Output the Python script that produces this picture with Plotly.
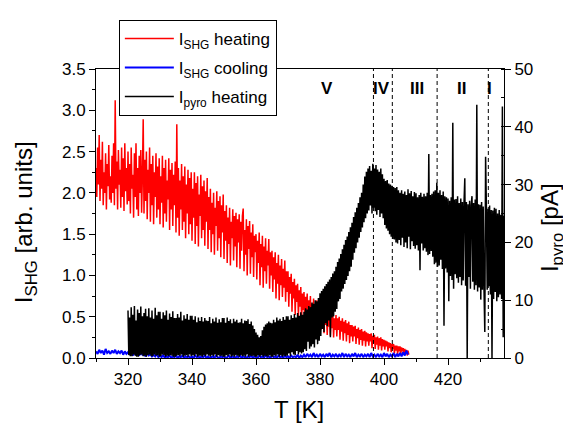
import numpy as np
import plotly.graph_objects as go

# ---------------- data ----------------
T_START_SHG = 310.0      # K, first SHG sample
T_START_PYRO = 320.0     # K, first pyro sample
STEP_HEAT = 0.25         # K between heating samples
STEP_COOL = 0.5          # K between cooling samples

shg_heating = [
    2.30, 1.95, 2.55, 2.10, 2.70, 1.90, 2.40, 2.05, 2.62, 1.85, 2.25, 2.00, 2.48, 1.80, 2.35, 2.08, 2.58, 1.92, 2.20, 1.88,
    2.45, 2.00, 2.60, 1.85, 3.12, 2.05, 2.38, 1.80, 2.52, 2.10, 2.28, 1.82, 2.55, 1.95, 2.42, 1.78, 2.60, 2.02, 2.30, 1.86,
    2.50, 1.90, 2.35, 1.75, 2.55, 2.05, 2.22, 1.70, 2.48, 1.95, 2.60, 1.80, 2.30, 1.72, 2.45, 2.00, 2.52, 1.76, 2.20, 2.89,
    1.75, 2.40, 1.90, 2.50, 1.68, 2.28, 2.00, 2.55, 1.65, 2.35, 1.85, 2.45, 1.62, 2.25, 1.95, 2.48, 1.70, 2.32, 1.80, 2.42,
    1.62, 2.20, 1.88, 2.45, 1.58, 2.30, 1.75, 2.40, 1.65, 2.15, 1.92, 2.42, 1.55, 2.28, 1.80, 2.36, 1.60, 2.22, 1.85, 2.38,
    1.52, 2.83, 1.70, 2.30, 1.48, 2.15, 1.80, 2.35, 1.55, 2.20, 1.65, 2.32, 1.45, 2.10, 1.75, 2.28, 1.50, 2.18, 1.62, 2.25,
    1.42, 2.05, 1.70, 2.25, 1.38, 2.12, 1.60, 2.20, 1.35, 1.98, 1.72, 2.22, 1.45, 2.08, 1.55, 2.15, 1.36, 2.02, 1.65, 2.18,
    1.32, 1.95, 1.55, 2.05, 1.28, 1.88, 1.50, 2.00, 1.25, 1.82, 1.60, 2.02, 1.30, 1.90, 1.45, 1.96, 1.22, 1.85, 1.52, 1.98,
    1.20, 1.78, 1.42, 1.85, 1.15, 1.70, 1.38, 1.82, 1.12, 1.65, 1.45, 1.80, 1.18, 1.72, 1.35, 1.76, 1.10, 1.68, 1.40, 1.74,
    1.08, 1.65, 1.30, 1.72, 1.81, 1.05, 1.55, 1.25, 1.68, 1.00, 1.60, 1.32, 1.66, 1.02, 1.52, 1.22, 1.62, 0.98, 1.48, 1.28,
    1.50, 0.95, 1.42, 1.15, 1.52, 0.88, 1.38, 1.10, 1.48, 0.85, 1.35, 1.05, 1.45, 0.90, 1.30, 1.12, 1.44, 0.84, 1.28, 1.00,
    1.30, 0.80, 1.22, 0.95, 1.28, 0.72, 1.15, 0.90, 1.25, 0.70, 1.12, 0.88, 1.20, 0.74, 1.08, 0.85, 1.18, 0.68, 1.05, 0.80,
    1.05, 0.62, 0.98, 0.78, 1.02, 0.56, 0.92, 0.72, 0.96, 0.52, 0.88, 0.68, 0.90, 0.50, 0.82, 0.62, 0.86, 0.46, 0.78, 0.58,
    0.80, 0.45, 0.74, 0.58, 0.78, 0.40, 0.70, 0.54, 0.75, 0.38, 0.66, 0.50, 0.72, 0.36, 0.64, 0.48, 0.70, 0.35, 0.62, 0.45,
    0.62, 0.34, 0.58, 0.44, 0.60, 0.30, 0.55, 0.40, 0.58, 0.28, 0.52, 0.38, 0.56, 0.27, 0.50, 0.36, 0.54, 0.25, 0.48, 0.34,
    0.52, 0.26, 0.48, 0.34, 0.50, 0.22, 0.45, 0.32, 0.48, 0.21, 0.44, 0.30, 0.46, 0.20, 0.42, 0.28, 0.44, 0.18, 0.40, 0.26,
    0.40, 0.20, 0.38, 0.26, 0.39, 0.17, 0.35, 0.24, 0.37, 0.16, 0.34, 0.22, 0.35, 0.15, 0.32, 0.21, 0.33, 0.14, 0.31, 0.20,
    0.30, 0.15, 0.29, 0.20, 0.30, 0.12, 0.27, 0.18, 0.28, 0.11, 0.25, 0.16, 0.26, 0.10, 0.24, 0.15, 0.25, 0.09, 0.23, 0.14,
    0.22, 0.10, 0.21, 0.14, 0.20, 0.08, 0.19, 0.12, 0.18, 0.07, 0.17, 0.11, 0.17, 0.06, 0.15, 0.09, 0.15, 0.05, 0.14, 0.08,
    0.14, 0.05, 0.13, 0.08, 0.12, 0.04, 0.11, 0.06, 0.10, 0.03, 0.09, 0.04,
]

shg_cooling = [
    0.08, 0.05, 0.10, 0.06, 0.09, 0.04, 0.11, 0.06, 0.08, 0.05,
    0.09, 0.06, 0.10, 0.05, 0.08, 0.06, 0.09, 0.04, 0.08, 0.05,
    0.07, 0.04, 0.08, 0.03, 0.07, 0.04, 0.06, 0.03, 0.07, 0.04,
    0.05, 0.02, 0.06, 0.03, 0.05, 0.02, 0.04, 0.02, 0.05, 0.01,
    0.03, 0.01, 0.04, 0.00, 0.02, 0.01, 0.03, 0.00, 0.02, 0.01,
    0.03, 0.00, 0.02, 0.01, 0.03, 0.00, 0.02, 0.01, 0.02, 0.00,
    0.02, 0.00, 0.03, 0.01, 0.02, 0.00, 0.02, 0.01, 0.03, 0.00,
    0.02, 0.00, 0.01, 0.02, 0.00, 0.03, 0.01, 0.00, 0.02, 0.01,
    0.02, 0.00, 0.01, 0.03, 0.00, 0.02, 0.01, 0.00, 0.02, 0.01,
    0.03, 0.00, 0.02, 0.01, 0.00, 0.02, 0.01, 0.03, 0.00, 0.02,
    0.01, 0.00, 0.03, 0.01, 0.02, 0.00, 0.04, 0.01, 0.02, 0.00,
    0.03, 0.01, 0.02, 0.00, 0.03, 0.01, 0.02, 0.00, 0.03, 0.01,
    0.02, 0.00, 0.03, 0.01, 0.02, 0.01, 0.04, 0.00, 0.03, 0.01,
    0.04, 0.01, 0.05, 0.02, 0.04, 0.01, 0.06, 0.02, 0.04, 0.01,
    0.05, 0.02, 0.04, 0.01, 0.05, 0.02, 0.06, 0.01, 0.04, 0.02,
    0.05, 0.01, 0.04, 0.02, 0.06, 0.01, 0.05, 0.02, 0.04, 0.01,
    0.05, 0.02, 0.06, 0.01, 0.04, 0.02, 0.05, 0.01, 0.04, 0.02,
    0.05, 0.01, 0.06, 0.02, 0.04, 0.01, 0.05, 0.02, 0.04, 0.01,
    0.06, 0.02, 0.05, 0.01, 0.04, 0.02, 0.06, 0.01, 0.05, 0.02,
    0.06, 0.02, 0.07, 0.03, 0.09, 0.04,
]

pyro_heating = [
    8.2, 0.5, 7.0, 0.3, 8.8, 0.3, 7.5, 0.6, 9.0, 0.4, 6.5, 0.2, 8.4, 0.2, 7.8, 0.5, 8.9, 0.6, 7.2, 0.3,
    7.8, 0.4, 8.5, 0.2, 7.2, 0.5, 8.6, 0.6, 7.0, 0.3, 8.2, 0.3, 6.8, 0.6, 8.7, 0.4, 7.4, 0.5, 8.0, 0.2,
    8.0, 0.3, 6.8, 0.6, 7.9, 0.5, 7.4, 0.2, 8.2, 0.4, 6.6, 0.3, 7.7, 0.5, 7.1, 0.4, 8.1, 0.2, 6.9, 0.2,
    6.9, 0.4, 7.6, 0.5, 7.0, 0.3, 8.0, 0.6, 6.5, 0.2, 7.4, 0.4, 6.8, 0.5, 7.6, 0.2, 6.6, 0.6, 7.3, 0.3,
    7.3, 0.5, 6.6, 0.3, 7.2, 0.6, 6.2, 0.2, 7.0, 0.4, 6.4, 0.4, 7.1, 0.2, 6.3, 0.5, 6.9, 0.3, 6.5, 0.6,
    6.4, 0.4, 7.1, 0.2, 6.0, 0.5, 6.8, 0.3, 6.3, 0.6, 7.0, 0.2, 6.1, 0.5, 6.7, 0.3, 6.2, 0.4, 6.9, 0.2,
    6.9, 0.2, 6.1, 0.5, 7.0, 0.3, 6.4, 0.6, 6.7, 0.2, 6.0, 0.4, 6.8, 0.2, 6.3, 0.5, 6.6, 0.4, 6.1, 0.2,
    6.2, 0.5, 6.8, 0.3, 6.0, 0.4, 6.5, 0.2, 6.4, 0.6, 6.7, 0.2, 5.9, 0.4, 6.3, 0.3, 5.6, 0.4, 5.0, 0.2,
    4.4, 0.2, 4.0, 0.5, 3.6, 0.2, 3.8, 0.5, 4.8, 0.2, 5.4, 0.4, 5.8, 0.3, 6.0, 0.2, 6.3, 0.5, 6.1, 0.2,
    6.0, 0.2, 6.6, 0.5, 6.2, 0.3, 7.0, 0.6, 6.5, 0.2, 6.8, 0.5, 6.4, 0.2, 7.1, 0.4, 6.6, 0.3, 7.2, 0.4,
    7.2, 0.8, 6.6, 0.3, 7.4, 1.0, 6.9, 0.6, 7.6, 0.5, 7.0, 1.2, 7.8, 0.6, 7.3, 1.0, 7.9, 0.8, 7.5, 1.0,
    8.0, 1.5, 8.6, 1.2, 8.4, 2.8, 9.0, 1.6, 8.8, 2.0, 9.6, 2.4, 9.4, 1.8, 10.0, 3.2, 9.8, 2.4, 10.4, 3.0,
    11.2, 3.8, 11.6, 5.0, 12.0, 4.5, 12.4, 6.0, 12.8, 5.5, 13.2, 6.5, 13.6, 3.6, 14.0, 7.0, 14.6, 7.2, 15.0, 8.0,
    15.8, 8.5, 16.6, 9.8, 17.2, 10.2, 18.0, 11.5, 18.8, 12.0, 19.6, 12.8, 20.4, 13.5, 21.0, 14.2, 21.8, 15.0, 22.6, 15.8,
    23.4, 17.0, 24.4, 18.2, 25.2, 19.0, 26.0, 20.0, 26.8, 20.8, 27.8, 21.8, 28.6, 22.6, 30.0, 23.5, 31.4, 24.2, 32.2, 25.0,
    32.8, 25.5, 33.2, 26.4, 32.4, 25.0, 33.6, 26.0, 32.8, 25.4, 33.4, 24.8, 32.6, 25.6, 32.2, 24.4, 32.8, 25.0, 31.8, 24.2,
    31.0, 23.0, 30.6, 22.4, 30.8, 22.0, 30.2, 21.4, 30.0, 21.0, 29.8, 20.6, 29.6, 20.5, 29.4, 20.0, 29.6, 19.8, 29.0, 20.4,
    28.6, 19.5, 29.0, 20.8, 28.4, 19.2, 28.8, 20.0, 28.2, 19.0, 29.2, 21.0, 28.5, 18.8, 28.9, 20.2, 28.0, 19.4, 28.7, 18.9,
    28.5, 19.5, 27.8, 18.6, 28.2, 15.2, 28.6, 19.8, 27.9, 18.6, 28.4, 19.0, 28.0, 18.4, 28.6, 17.8, 35.3, 18.0, 28.2, 18.5,
    28.4, 17.5, 28.8, 16.2, 29.0, 16.5, 30.3, 15.8, 28.6, 16.0, 29.0, 17.0, 28.2, 15.4, 28.8, 5.6, 28.0, 15.5, 27.8, 14.8,
    27.6, 9.8, 27.2, 14.2, 27.8, 13.5, 40.7, 12.0, 27.4, 14.5, 27.5, 13.8, 28.0, 13.0, 26.8, 14.0, 27.6, 12.6, 27.0, 13.4,
    26.8, 31.1, 12.5, 27.0, 0.0, 26.6, 14.0, 27.2, 12.0, 26.4, 28.0, 13.2, 26.8, 11.8, 27.4, 12.6, 43.8, 11.5, 26.6, 12.2,
    26.5, 10.1, 27.0, 11.8, 26.2, 12.0, 4.5, 34.8, 26.0, 11.8, 25.8, 12.4, 26.4, 11.0, 25.6, 0.0, 25.5, 10.2, 26.0, 11.4,
    25.8, 9.8, 25.0, 10.5, 25.6, 11.0, 24.8, 10.2, 43.5, 3.6, 24.6, 10.0,
]

phase_boundaries = [396.7, 402.6, 416.6, 432.6]          # K, dashed lines
phase_labels = ["V", "IV", "III", "II", "I"]
phase_label_T = [382.1, 399.3, 410.2, 424.3, 432.9]     # K

x_ticks = [320, 340, 360, 380, 400, 420]
y_left_ticks = [0.0, 0.5, 1.0, 1.5, 2.0, 2.5, 3.0, 3.5]
y_right_ticks = [0, 10, 20, 30, 40, 50]

T_shg_h = T_START_SHG + STEP_HEAT * np.arange(len(shg_heating))
T_shg_c = T_START_SHG + STEP_COOL * np.arange(len(shg_cooling))
T_pyro = T_START_PYRO + STEP_HEAT * np.arange(len(pyro_heating))

FONT = "Arial, Liberation Sans, Helvetica, sans-serif"

fig = go.Figure()
fig.add_trace(go.Scatter(x=T_shg_h, y=shg_heating, mode="lines",
                         line=dict(color="#ff0000", width=1.5, simplify=False),
                         name="I<sub>SHG</sub> heating", yaxis="y", legendgroup="a"))
fig.add_trace(go.Scatter(x=T_shg_c, y=shg_cooling, mode="lines",
                         line=dict(color="#0000ff", width=2, simplify=False),
                         name="I<sub>SHG</sub> cooling", yaxis="y", legendgroup="b"))
fig.add_trace(go.Scatter(x=T_pyro, y=pyro_heating, mode="lines",
                         line=dict(color="#000000", width=1.5, simplify=False),
                         name="I<sub>pyro</sub> heating", yaxis="y2", legendgroup="c"))

shapes = []
for tb in phase_boundaries:
    shapes.append(dict(type="line", xref="x", yref="paper", x0=tb, x1=tb, y0=0, y1=1,
                       line=dict(color="black", width=1, dash="4px,3px"), layer="above"))

annotations = []
for lab, tx in zip(phase_labels, phase_label_T):
    annotations.append(dict(x=tx, y=0.931, xref="x", yref="paper", text="<b>%s</b>" % lab,
                            showarrow=False, font=dict(family=FONT, size=17, color="black"),
                            xanchor="center", yanchor="middle"))
annotations.append(dict(x=0.4975, y=-0.177, xref="paper", yref="paper", text="T [K]",
                        showarrow=False, font=dict(family=FONT, size=24, color="black"),
                        xanchor="center", yanchor="middle"))
annotations.append(dict(x=-0.174, y=0.47, xref="paper", yref="paper",
                        text="I<sub>SHG</sub> [arb. units]", textangle=-90,
                        showarrow=False, font=dict(family=FONT, size=24, color="black"),
                        xanchor="center", yanchor="middle"))
annotations.append(dict(x=1.118, y=0.45, xref="paper", yref="paper",
                        text="I<sub>pyro</sub> [pA]", textangle=-90,
                        showarrow=False, font=dict(family=FONT, size=24, color="black"),
                        xanchor="center", yanchor="middle"))

# the page body adds an 8px offset, so the figure is 8px smaller on each axis
fig.update_layout(
    width=563, height=415,
    margin=dict(l=88, r=67, t=53, b=65),
    paper_bgcolor="white", plot_bgcolor="white",
    font=dict(family=FONT, size=17, color="black"),
    showlegend=True,
    legend=dict(x=0.056, y=1.17, xanchor="left", yanchor="top",
                bgcolor="white", bordercolor="black", borderwidth=1,
                font=dict(family=FONT, size=17, color="black"),
                tracegroupgap=4, itemwidth=49),
    xaxis=dict(range=[310, 437.5], tickmode="array", tickvals=x_ticks,
               ticktext=[str(v) for v in x_ticks],
               showgrid=False, zeroline=False, showline=True, linecolor="black",
               linewidth=1, mirror=True, ticks="outside", ticklen=6, tickwidth=1,
               tickcolor="black", minor=dict(ticks="outside", ticklen=3, dtick=10,
                                             tick0=310, tickcolor="black", showgrid=False),
               tickfont=dict(size=17)),
    yaxis=dict(range=[0, 3.5], tickmode="array", tickvals=y_left_ticks,
               ticktext=["%.1f" % v for v in y_left_ticks],
               showgrid=False, zeroline=False, showline=True, linecolor="black",
               linewidth=1, ticks="outside", ticklen=6, tickwidth=1, tickcolor="black",
               minor=dict(ticks="outside", ticklen=3, dtick=0.25, tick0=0,
                          tickcolor="black", showgrid=False),
               tickfont=dict(size=17)),
    yaxis2=dict(range=[0, 50], overlaying="y", side="right", tickmode="array",
                tickvals=y_right_ticks, ticktext=[str(v) for v in y_right_ticks],
                showgrid=False, zeroline=False, showline=True, linecolor="black",
                linewidth=1, ticks="outside", ticklen=6, tickwidth=1, tickcolor="black",
                minor=dict(ticks="inside", ticklen=3, dtick=5, tick0=0,
                           tickcolor="black", showgrid=False),
                tickfont=dict(size=17)),
    shapes=shapes,
    annotations=annotations,
)

fig.write_html("out.html")
